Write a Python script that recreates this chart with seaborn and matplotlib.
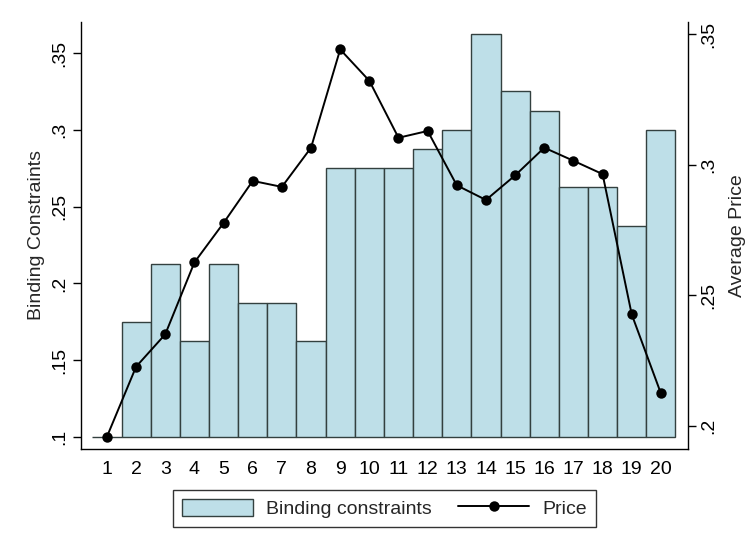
import matplotlib
matplotlib.use("Agg")
import matplotlib.pyplot as plt
import matplotlib.ticker as mticker
from matplotlib.patches import Patch
from matplotlib.lines import Line2D
import numpy as np
import pandas as pd
import seaborn as sns

# Hours 1..20: share of binding constraints and average price
hours = list(range(1, 21))
binding = [0.1, 0.175, 0.2125, 0.1625, 0.2125, 0.1875, 0.1875, 0.1625, 0.275, 0.275,
           0.275, 0.2875, 0.3, 0.3625, 0.325, 0.3125, 0.2625, 0.2625, 0.2375, 0.3]
price = [0.1959, 0.2227, 0.2351, 0.2626, 0.2777, 0.2938, 0.2915, 0.3065, 0.3441, 0.3321,
         0.3103, 0.3129, 0.2921, 0.2865, 0.2959, 0.3065, 0.3015, 0.2964, 0.2427, 0.2125]

left_ticks = [0.1, 0.15, 0.2, 0.25, 0.3, 0.35]
right_ticks = [0.2, 0.25, 0.3, 0.35]
bar_base = 0.1

df = pd.DataFrame({"hour": hours, "binding": binding, "price": price})

FS = 14
sns.set_theme(style="white")
plt.rcParams["font.family"] = ["Liberation Sans", "DejaVu Sans"]
plt.rcParams["font.size"] = FS

W, H = 751, 550
fig = plt.figure(figsize=(W / 100, H / 100), dpi=100)
fig.patch.set_facecolor("white")
ax = fig.add_axes([81 / W, 1 - 449 / H, (688 - 81) / W, (449 - 22) / H])
ax2 = ax.twinx()

bar_fill = "#bedfe8"
bar_edge = "#33403f"
ax.bar(df["hour"], df["binding"] - bar_base, bottom=bar_base, width=1.0,
       color=bar_fill, edgecolor=bar_edge, linewidth=1.0, zorder=2)

sns.lineplot(data=df, x="hour", y="price", ax=ax2, color="black", linewidth=1.4,
             marker="o", markersize=7.5, markeredgewidth=0, markerfacecolor="black")

ax.set_xlim(0.11, 20.93)
ax.set_ylim(0.0922, 0.3702)
ax2.set_ylim(0.1912, 0.3546)

def dotfmt(v, _):
    s = f"{v:.2f}".rstrip("0")
    return s[1:] if s.startswith("0") else s

ax.set_xticks(hours)
ax.set_yticks(left_ticks)
ax2.set_yticks(right_ticks)
ax.yaxis.set_major_formatter(mticker.FuncFormatter(dotfmt))
ax2.yaxis.set_major_formatter(mticker.FuncFormatter(dotfmt))

for a in (ax, ax2):
    a.tick_params(axis="both", which="major", direction="out", length=6, width=1.0,
                  color="black", labelsize=FS, labelcolor="black", pad=3)
    a.grid(False)
    a.spines["top"].set_visible(False)
    for side in ("left", "right", "bottom"):
        a.spines[side].set_color("black")
        a.spines[side].set_linewidth(1.0)
ax.spines["right"].set_visible(False)
ax2.spines["left"].set_visible(False)
ax2.spines["bottom"].set_visible(False)

for lab in ax.get_yticklabels() + ax2.get_yticklabels():
    lab.set_rotation(90)
    lab.set_va("center")

ax.set_xlabel("")
ax2.set_xlabel("")
ax.set_ylabel("Binding Constraints", fontsize=FS, labelpad=5)
ax2.set_ylabel("Average Price", fontsize=FS, labelpad=8, rotation=90)

handles = [
    Patch(facecolor=bar_fill, edgecolor=bar_edge, linewidth=1.0, label="Binding constraints"),
    Line2D([0], [0], color="black", linewidth=1.4, marker="o", markersize=7.5,
           markeredgewidth=0, label="Price"),
]
leg = fig.legend(handles=handles, loc="upper center", ncol=2,
                 bbox_to_anchor=(384.5 / W, 1 - 490 / H), borderaxespad=0,
                 frameon=True, fancybox=False,
                 handlelength=3.65, handleheight=1.0, handletextpad=0.7,
                 columnspacing=1.35, borderpad=0.45, fontsize=FS)
leg.get_frame().set_edgecolor("black")
leg.get_frame().set_linewidth(1.0)

fig.savefig("out.png", dpi=100, facecolor="white")
